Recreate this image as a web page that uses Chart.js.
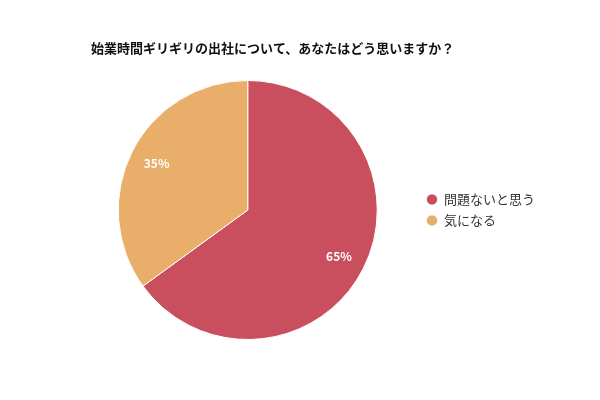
<!DOCTYPE html>
<html>
<head>
<meta charset="utf-8">
<style>
  body { margin: 0; background: #fff; }
  #wrap { width: 600px; height: 400px; }
</style>
<script src="https://cdn.jsdelivr.net/npm/chart.js"></script>
</head>
<body>
<div id="wrap"><canvas id="chart"></canvas></div>
<script>
const titleText = '始業時間ギリギリの出社について、あなたはどう思いますか？';
const labels = ['問題ないと思う', '気になる'];
const values = [65, 35];
const colors = ['#C94F5E', '#E8AE6A'];
const fontFamily = '"Noto Sans CJK JP", "Noto Sans", sans-serif';

// title drawn by hand so it can sit at its own left edge
const titlePlugin = {
  id: 'plainTitle',
  afterDraw(chart) {
    const ctx = chart.ctx;
    ctx.save();
    ctx.font = 'bold 13px ' + fontFamily;
    ctx.fillStyle = '#111';
    ctx.textBaseline = 'middle';
    ctx.fillText(titleText, 91, 48);
    ctx.restore();
  }
};

// percent labels inside the slices
const percentPlugin = {
  id: 'percentLabels',
  afterDatasetsDraw(chart) {
    const ctx = chart.ctx;
    const meta = chart.getDatasetMeta(0);
    const total = values.reduce((a, b) => a + b, 0);
    ctx.save();
    ctx.font = 'bold 12px ' + fontFamily;
    ctx.fillStyle = '#fff';
    ctx.textAlign = 'center';
    ctx.textBaseline = 'middle';
    meta.data.forEach((arc, i) => {
      const p = arc.getProps(['x', 'y', 'startAngle', 'endAngle', 'outerRadius'], true);
      const mid = (p.startAngle + p.endAngle) / 2;
      const r = p.outerRadius * 0.79;
      const pct = Math.round(values[i] / total * 100) + '%';
      ctx.fillText(pct, p.x + Math.cos(mid) * r, p.y + Math.sin(mid) * r);
    });
    ctx.restore();
  }
};

new Chart(document.getElementById('chart'), {
  type: 'pie',
  data: {
    labels: labels,
    datasets: [{
      data: values,
      backgroundColor: colors,
      borderColor: '#fff',
      borderWidth: 1
    }]
  },
  options: {
    responsive: true,
    maintainAspectRatio: false,
    animation: false,
    layout: {
      padding: { top: 80, bottom: 60, left: 77, right: 55 }
    },
    plugins: {
      title: { display: false },
      tooltip: { enabled: false },
      legend: {
        position: 'right',
        labels: {
          usePointStyle: true,
          pointStyle: 'circle',
          boxWidth: 11,
          boxHeight: 8,
          padding: 8,
          color: '#333',
          font: { family: fontFamily, size: 13 }
        }
      }
    }
  },
  plugins: [titlePlugin, percentPlugin]
});
</script>
</body>
</html>
